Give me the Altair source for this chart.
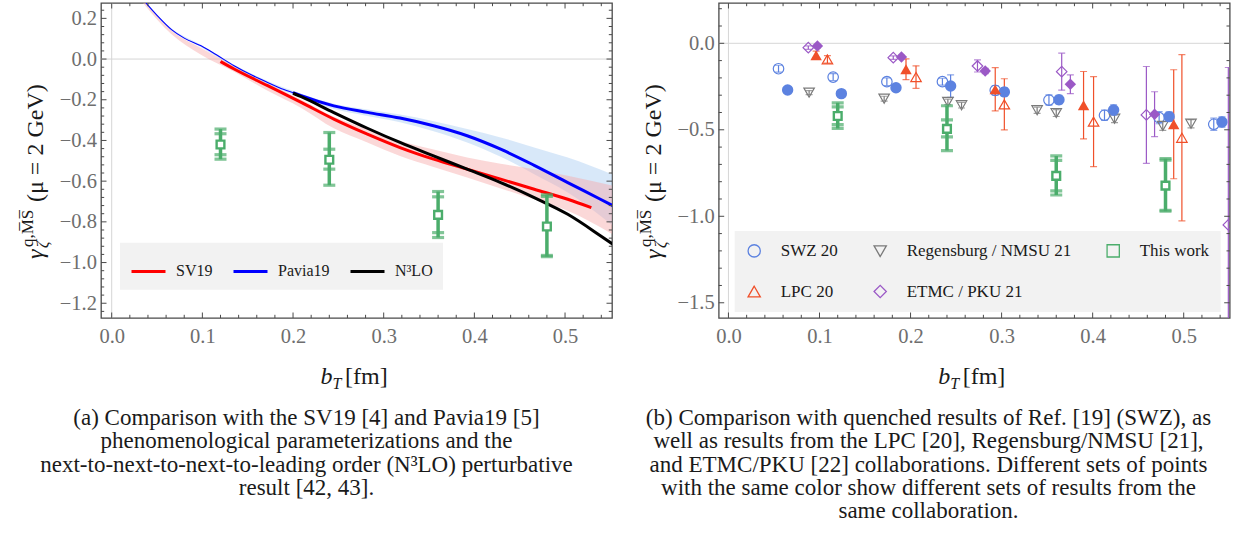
import altair as alt
import pandas as pd

W, H = 511, 315
SERIF = "Liberation Serif"
FRAME = "#4a4a4a"
LAB = "#6e6e6e"
INK = "#1a1a1a"
ZERO = "#d6d6d6"
GREEN = "#4bad6b"

# ---------------- axis extents / tick values ----------------
L_XDOM = [-0.0118, 0.5518]
L_YDOM = [-1.2725, 0.2755]
R_XDOM = [-0.0107, 0.5505]
R_YDOM = [-1.588, 0.233]

x_major = [0.0, 0.1, 0.2, 0.3, 0.4, 0.5]
x_minor = [0.02, 0.04, 0.06, 0.08, 0.12, 0.14, 0.16, 0.18, 0.22, 0.24, 0.26, 0.28,
           0.32, 0.34, 0.36, 0.38, 0.42, 0.44, 0.46, 0.48, 0.52, 0.54]
ly_major = [0.2, 0.0, -0.2, -0.4, -0.6, -0.8, -1.0, -1.2]
ly_minor = [0.24, 0.16, 0.12, 0.08, 0.04, -0.04, -0.08, -0.12, -0.16, -0.24, -0.28, -0.32,
            -0.36, -0.44, -0.48, -0.52, -0.56, -0.64, -0.68, -0.72, -0.76, -0.84, -0.88,
            -0.92, -0.96, -1.04, -1.08, -1.12, -1.16, -1.24]
ry_major = [0.0, -0.5, -1.0, -1.5]
ry_minor = [0.2, 0.1, -0.1, -0.2, -0.3, -0.4, -0.6, -0.7, -0.8, -0.9, -1.1, -1.2, -1.3, -1.4]

# ---------------- left panel data ----------------
sv19_b = [0.120, 0.135, 0.172, 0.209, 0.245, 0.282, 0.318, 0.355, 0.392, 0.429, 0.466, 0.503, 0.529]
sv19_g = [-0.012, -0.049, -0.131, -0.213, -0.295, -0.369, -0.435, -0.492, -0.541, -0.590, -0.640, -0.689, -0.730]

pav_thin_b = [0.030, 0.038, 0.050, 0.066, 0.080, 0.0985, 0.115, 0.135, 0.155, 0.172, 0.190, 0.205]
pav_thin_g = [0.318, 0.275, 0.215, 0.145, 0.103, 0.065, 0.022, -0.033, -0.080, -0.115, -0.150, -0.172]
pav_b = [0.200, 0.209, 0.245, 0.282, 0.318, 0.355, 0.392, 0.429, 0.466, 0.503, 0.539, 0.556]
pav_g = [-0.165, -0.180, -0.230, -0.262, -0.290, -0.328, -0.377, -0.443, -0.522, -0.607, -0.689, -0.728]

n3lo_b = [0.200, 0.209, 0.245, 0.282, 0.318, 0.355, 0.392, 0.429, 0.466, 0.503, 0.539, 0.556]
n3lo_g = [-0.168, -0.185, -0.263, -0.340, -0.410, -0.476, -0.541, -0.607, -0.681, -0.763, -0.868, -0.920]

band_b = [0.030, 0.066, 0.0985, 0.135, 0.172, 0.209, 0.245, 0.282, 0.318, 0.355, 0.392, 0.429, 0.466, 0.503, 0.556]
sv19_lo = [0.300, 0.122, 0.021, -0.062, -0.156, -0.240, -0.340, -0.410, -0.476, -0.530, -0.582, -0.636, -0.689, -0.746, -0.870]
sv19_hi = [0.318, 0.140, 0.054, -0.035, -0.120, -0.200, -0.284, -0.345, -0.402, -0.445, -0.484, -0.515, -0.541, -0.574, -0.625]
pav_lo = [0.312, 0.140, 0.058, -0.040, -0.124, -0.190, -0.246, -0.280, -0.311, -0.355, -0.410, -0.480, -0.566, -0.656, -0.830]
pav_hi = [0.322, 0.150, 0.070, -0.028, -0.108, -0.170, -0.219, -0.248, -0.273, -0.305, -0.344, -0.385, -0.434, -0.484, -0.574]

# "This work" (shown in both panels)
tw_b = [0.12, 0.24, 0.36, 0.48]
tw_g = [-0.420, -0.495, -0.766, -0.823]
tw_stat_lo = [-0.470, -0.541, -0.853, -0.965]
tw_stat_hi = [-0.367, -0.443, -0.677, -0.675]
tw_tot_lo = [-0.492, -0.620, -0.877, -0.971]
tw_tot_hi = [-0.344, -0.361, -0.651, -0.667]

# ---------------- right panel data ----------------
swz_open_b = [0.055, 0.115, 0.174, 0.235, 0.293, 0.352, 0.413, 0.473, 0.533]
swz_open_g = [-0.147, -0.195, -0.222, -0.222, -0.272, -0.328, -0.416, -0.430, -0.468]
swz_open_e = [0.020, 0.020, 0.022, 0.020, 0.028, 0.030, 0.030, 0.035, 0.035]
swz_fill_b = [0.065, 0.124, 0.184, 0.244, 0.303, 0.363, 0.423, 0.484, 0.542]
swz_fill_g = [-0.270, -0.291, -0.257, -0.247, -0.281, -0.326, -0.386, -0.424, -0.455]
swz_fill_e = [0.012, 0.018, 0.020, 0.065, 0.025, 0.025, 0.030, 0.028, 0.030]
reg_b = [0.0886, 0.171, 0.241, 0.256, 0.339, 0.360, 0.424, 0.477, 0.508]
reg_g = [-0.285, -0.320, -0.339, -0.358, -0.387, -0.403, -0.436, -0.478, -0.465]
reg_e = [0.012, 0.014, 0.016, 0.016, 0.018, 0.020, 0.022, 0.025, 0.024]
lpc_fill_b = [0.0963, 0.195, 0.293, 0.390, 0.489]
lpc_fill_g = [-0.069, -0.150, -0.266, -0.358, -0.468]
lpc_fill_e = [0.024, 0.060, 0.125, 0.195, 0.315]
lpc_open_b = [0.1087, 0.206, 0.303, 0.401, 0.498]
lpc_open_g = [-0.093, -0.195, -0.353, -0.453, -0.546]
lpc_open_e = [0.022, 0.065, 0.148, 0.260, 0.480]
etmc_open_b = [0.0877, 0.181, 0.2735, 0.366, 0.459, 0.549]
etmc_open_g = [-0.025, -0.083, -0.131, -0.164, -0.414, -1.050]
etmc_open_e = [0.010, 0.010, 0.035, 0.107, 0.280, 0.910]
etmc_fill_b = [0.0977, 0.190, 0.282, 0.3755, 0.468]
etmc_fill_g = [-0.016, -0.079, -0.160, -0.237, -0.410]
etmc_fill_e = [0.010, 0.010, 0.015, 0.054, 0.130]

collabs = ["SWZ 20", "Regensburg / NMSU 21", "This work", "LPC 20", "ETMC / PKU 21"]
collab_colors = ["#5c82e0", "#7a7a7a", GREEN, "#f0502a", "#9b59c6"]
collab_shapes = ["circle", "triangle-down", "square", "triangle-up", "diamond"]

series_names = ["SV19", "Pavia19", "N³LO"]
series_colors = ["#ff0000", "#0000ff", "#000000"]

caption_a = ["(a) Comparison with the SV19 [4] and Pavia19 [5]",
             "phenomenological parameterizations and the",
             "next-to-next-to-next-to-leading order (N³LO) perturbative",
             "result [42, 43]."]
caption_b = ["(b)  Comparison with quenched results of Ref. [19] (SWZ), as",
             "well as results from the LPC [20], Regensburg/NMSU [21],",
             "and ETMC/PKU [22] collaborations. Different sets of points",
             "with the same color show different sets of results from the",
             "same collaboration."]

ONE = pd.DataFrame({"a": [0]})


def txt(x, y, s, size, style="normal", angle=0, dy=0, align="left", color=INK, line_height=None):
    kw = dict(font=SERIF, fontSize=size, fontStyle=style, dy=dy, align=align,
              baseline="alphabetic", color=color)
    if angle:
        kw["angle"] = angle
    if line_height:
        kw["lineHeight"] = line_height
    return alt.Chart(ONE).mark_text(**kw).encode(x=alt.value(x), y=alt.value(y), text=alt.value(s))


def make_enc(xdom, ydom, yvals):
    xs = alt.Scale(domain=xdom, nice=False, zero=False)
    ys = alt.Scale(domain=ydom, nice=False, zero=False)
    ax = alt.Axis(values=x_major, format=".1f", ticks=False, tickSize=0, domain=False, grid=False,
                  labelFont=SERIF, labelFontSize=20.5, labelColor=LAB, labelPadding=24.7,
                  labelBaseline="alphabetic", labelFlush=False, labelOverlap=False, title=None)
    ay = alt.Axis(values=yvals, format=".1f", ticks=False, tickSize=0, domain=False, grid=False,
                  labelFont=SERIF, labelFontSize=20.5, labelColor=LAB, labelPadding=4.5,
                  labelAlign="right", labelBaseline="middle", labelOverlap=False, title=None)

    def X(f="b"):
        return alt.X(f + ":Q", scale=xs, axis=ax)

    def Y(f="g"):
        return alt.Y(f + ":Q", scale=ys, axis=ay)
    return X, Y


def frame_ticks(X, Y, xmaj, xmin, ymaj, ymin):
    out = []
    for vals, ln in ((xmaj, 5.5), (xmin, 3.2)):
        m = alt.Chart(pd.DataFrame({"b": vals})).mark_rule(color=FRAME, strokeWidth=1)
        out.append(m.encode(x=X(), y=alt.value(H), y2=alt.value(H - ln)))
        out.append(m.encode(x=X(), y=alt.value(0), y2=alt.value(ln)))
    for vals, ln in ((ymaj, 5.5), (ymin, 3.2)):
        m = alt.Chart(pd.DataFrame({"g": vals})).mark_rule(color=FRAME, strokeWidth=1)
        out.append(m.encode(y=Y(), x=alt.value(0), x2=alt.value(ln)))
        out.append(m.encode(y=Y(), x=alt.value(W), x2=alt.value(W - ln)))
    return out


def zero_lines(X, Y):
    zx = alt.Chart(pd.DataFrame({"b": [0.0]})).mark_rule(color=ZERO, strokeWidth=1).encode(x=X())
    zy = alt.Chart(pd.DataFrame({"g": [0.0]})).mark_rule(color=ZERO, strokeWidth=1).encode(y=Y())
    return [zx, zy]


def titles():
    bx = -58
    return [
        txt(bx, 256, "γ", 24, style="italic", angle=270),
        txt(bx, 245, "ζ", 16, style="italic", angle=270, dy=5),
        txt(bx, 244, "q,M\u0305S\u0305", 17, angle=270, dy=-10),
        txt(bx, 199, "(μ = 2 GeV)", 24, angle=270),
        txt(219.5, 381.3, "b", 24, style="italic"),
        txt(231.5, 381.3, "T", 16, style="italic", dy=5),
        txt(244, 381.3, "[fm]", 24),
    ]


def this_work(X, Y):
    tw = pd.DataFrame({"b": tw_b, "g": tw_g, "slo": tw_stat_lo, "shi": tw_stat_hi,
                       "tlo": tw_tot_lo, "thi": tw_tot_hi})
    out = [alt.Chart(tw).mark_rule(color=GREEN, strokeWidth=3.5, clip=True).encode(
        x=X(), y=Y("tlo"), y2="thi:Q")]
    for f in ["tlo", "thi", "slo", "shi"]:
        out.append(alt.Chart(tw).mark_tick(orient="horizontal", color=GREEN, size=12, thickness=3.2,
                                           clip=True).encode(x=X(), y=Y(f)))
    out.append(alt.Chart(tw).mark_square(size=60, fill="white", stroke=GREEN, strokeWidth=2.4,
                                         opacity=1, clip=True).encode(x=X(), y=Y("g")))
    return out


# ======================= LEFT PANEL =======================
XL, YL = make_enc(L_XDOM, L_YDOM, ly_major)

pav_band = alt.Chart(pd.DataFrame({"b": band_b, "lo": pav_lo, "hi": pav_hi})).mark_area(
    color="#a8cdf2", opacity=0.45, clip=True, interpolate="monotone").encode(
    x=XL(), y=YL("lo"), y2="hi:Q")
sv_band = alt.Chart(pd.DataFrame({"b": band_b, "lo": sv19_lo, "hi": sv19_hi})).mark_area(
    color="#f7a8a8", opacity=0.45, clip=True, interpolate="monotone").encode(
    x=XL(), y=YL("lo"), y2="hi:Q")

thin = alt.Chart(pd.DataFrame({"b": pav_thin_b, "g": pav_thin_g})).mark_line(
    color="#0000ff", strokeWidth=1.1, clip=True, interpolate="monotone").encode(x=XL(), y=YL())

lines_df = pd.concat([
    pd.DataFrame({"b": sv19_b, "g": sv19_g, "series": "SV19"}),
    pd.DataFrame({"b": pav_b, "g": pav_g, "series": "Pavia19"}),
    pd.DataFrame({"b": n3lo_b, "g": n3lo_g, "series": "N³LO"}),
], ignore_index=True)

lines = alt.Chart(lines_df).mark_line(strokeWidth=3, clip=True, interpolate="monotone").encode(
    x=XL(), y=YL(),
    color=alt.Color("series:N", scale=alt.Scale(domain=series_names, range=series_colors),
                    sort=series_names,
                    legend=alt.Legend(title=None, orient="none", legendX=19, legendY=239.7,
                                      direction="horizontal", fillColor="#f2f2f2", padding=10,
                                      symbolType="stroke", symbolSize=1156, symbolStrokeWidth=3,
                                      labelFont=SERIF, labelFontSize=16, labelColor=INK,
                                      labelOffset=9, columnPadding=14, labelLimit=300)))

anchorL = alt.Chart(ONE).mark_rule(strokeOpacity=0, strokeWidth=1).encode(
    x=alt.value(-100), x2=alt.value(0), y=alt.value(-1.5))

left = alt.layer(
    anchorL,
    *zero_lines(XL, YL),
    pav_band, sv_band, thin, lines,
    *this_work(XL, YL),
    *frame_ticks(XL, YL, x_major, x_minor, ly_major, ly_minor),
    *titles(),
    txt(205.5, 422, caption_a, 23, align="center", line_height=23.3),
).properties(width=W, height=H)

# ======================= RIGHT PANEL =======================
XR, YR = make_enc(R_XDOM, R_YDOM, ry_major)


def pts(b, g, e, name):
    return pd.DataFrame({"b": b, "g": g, "lo": [v - d for v, d in zip(g, e)],
                         "hi": [v + d for v, d in zip(g, e)], "collab": name})


open_sets = {
    "SWZ 20": pts(swz_open_b, swz_open_g, swz_open_e, "SWZ 20"),
    "Regensburg / NMSU 21": pts(reg_b, reg_g, reg_e, "Regensburg / NMSU 21"),
    "LPC 20": pts(lpc_open_b, lpc_open_g, lpc_open_e, "LPC 20"),
    "ETMC / PKU 21": pts(etmc_open_b, etmc_open_g, etmc_open_e, "ETMC / PKU 21"),
}
fill_sets = {
    "SWZ 20": pts(swz_fill_b, swz_fill_g, swz_fill_e, "SWZ 20"),
    "LPC 20": pts(lpc_fill_b, lpc_fill_g, lpc_fill_e, "LPC 20"),
    "ETMC / PKU 21": pts(etmc_fill_b, etmc_fill_g, etmc_fill_e, "ETMC / PKU 21"),
}
col_of = dict(zip(collabs, collab_colors))
shp_of = dict(zip(collabs, collab_shapes))

err_layers = []
fill_layers = []
for name, df in list(open_sets.items()) + list(fill_sets.items()):
    c = col_of[name]
    err_layers.append(alt.Chart(df).mark_rule(color=c, strokeWidth=1.2, clip=True).encode(
        x=XR(), y=YR("lo"), y2="hi:Q"))
    for f in ["lo", "hi"]:
        err_layers.append(alt.Chart(df).mark_tick(orient="horizontal", color=c, size=7, thickness=1.2,
                                                  clip=True).encode(x=XR(), y=YR(f)))
for name, df in fill_sets.items():
    fill_layers.append(alt.Chart(df).mark_point(filled=True, color=col_of[name], shape=shp_of[name],
                                                size=130, opacity=1, clip=True).encode(x=XR(), y=YR()))

open_df = pd.concat(list(open_sets.values()), ignore_index=True)
legR = alt.Legend(title=None, orient="none", legendX=16, legendY=228, columns=3, direction="horizontal",
                  fillColor="#f2f2f2", padding=11, symbolSize=150, symbolStrokeWidth=1.3,
                  labelFont=SERIF, labelFontSize=17, labelColor=INK, labelOffset=18,
                  columnPadding=32, rowPadding=22, labelLimit=300)
open_pts = alt.Chart(open_df).mark_point(filled=False, size=110, strokeWidth=1.2, opacity=1, clip=True).encode(
    x=XR(), y=YR(),
    color=alt.Color("collab:N", scale=alt.Scale(domain=collabs, range=collab_colors), legend=legR),
    shape=alt.Shape("collab:N", scale=alt.Scale(domain=collabs, range=collab_shapes), legend=legR))

right = alt.layer(
    *zero_lines(XR, YR),
    *err_layers, open_pts, *fill_layers,
    *this_work(XR, YR),
    *frame_ticks(XR, YR, x_major, x_minor, ry_major, ry_minor),
    *titles(),
    txt(209.8, 422, caption_b, 23, align="center", line_height=23.3),
).properties(width=W, height=H)

chart = alt.hconcat(left, right, spacing=106.7, bounds="flush").resolve_scale(
    color="independent", shape="independent"
).resolve_legend(color="independent", shape="independent").properties(
    padding={"left": 0, "top": 0, "right": 0, "bottom": 0}
).configure_view(stroke=FRAME, strokeWidth=1.3)

chart.save("out.html", embed_options={"renderer": "svg", "actions": False})
